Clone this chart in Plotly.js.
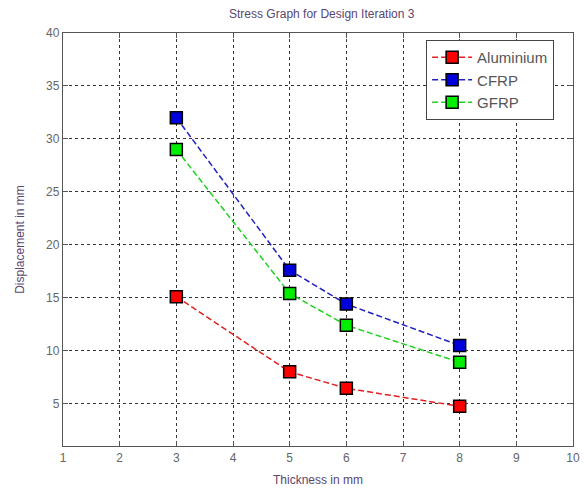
<!DOCTYPE html>
<html>
<head>
<meta charset="utf-8">
<script src="https://cdn.plot.ly/plotly-3.0.1.min.js"></script>
<style>html,body{margin:0;padding:0;background:#fff;}#chart{width:585px;height:491px;}</style>
</head>
<body>
<div id="chart"></div>
<script>
const thickness = [3, 5, 6, 8];
const aluminium = [15.1, 8.0, 6.45, 4.75];
const cfrp = [32.0, 17.6, 14.4, 10.5];
const gfrp = [29.0, 15.4, 12.4, 8.9];
const seriesNames = ['Aluminium', 'CFRP', 'GFRP'];
const xTicks = [1,2,3,4,5,6,7,8,9,10];
const yTicks = [5,10,15,20,25,30,35,40];

const colors = ['#ff0000', '#0000dd', '#00ee00'];
const lineColors = ['#e02020', '#2020c0', '#20d020'];
const data = [aluminium, cfrp, gfrp].map((ys, i) => ({
  x: thickness, y: ys, name: seriesNames[i], type: 'scatter', mode: 'lines+markers',
  line: {color: lineColors[i], dash: '6px,3px', width: 1.5, shape: 'linear'},
  marker: {symbol: 'square', size: 12, color: colors[i], line: {color: '#000', width: 1.5}}
}));

const tickFont = {family: 'Liberation Sans, Arial, sans-serif', size: 12, color: '#666'};
const labFont = {family: 'Liberation Sans, Arial, sans-serif', size: 12, color: '#5a4670'};
const layout = {
  width: 585, height: 491,
  margin: {l: 63, r: 12, t: 33, b: 45},
  paper_bgcolor: '#fff', plot_bgcolor: '#fff',
  title: {text: 'Stress Graph for Design Iteration 3', font: labFont, x: 0.55, xanchor: 'center', y: 0.972, yanchor: 'middle'},
  xaxis: {
    range: [1, 10], tickvals: xTicks, ticktext: xTicks.map(String),
    showgrid: true, gridcolor: '#333', griddash: 'dot', gridwidth: 1,
    showline: true, linecolor: '#555', linewidth: 1.2, mirror: 'allticks',
    ticks: 'inside', ticklen: 5, tickcolor: '#555',
    tickfont: tickFont, zeroline: false,
    title: {text: 'Thickness in mm', font: labFont, standoff: 12}
  },
  yaxis: {
    range: [1, 40], tickvals: yTicks, ticktext: yTicks.map(String),
    showgrid: true, gridcolor: '#333', griddash: 'dot', gridwidth: 1,
    showline: true, linecolor: '#555', linewidth: 1.2, mirror: 'allticks',
    ticks: 'inside', ticklen: 5, tickcolor: '#555',
    tickfont: tickFont, zeroline: false,
    title: {text: 'Displacement in mm', font: labFont, standoff: 18}
  },
  legend: {
    x: 0.712, y: 0.983, xanchor: 'left', yanchor: 'top',
    bgcolor: '#fff', bordercolor: '#444', borderwidth: 1,
    font: {family: 'Liberation Sans, Arial, sans-serif', size: 15, color: '#555'},
    tracegroupgap: 0, itemwidth: 40
  },
  showlegend: true
};
Plotly.newPlot('chart', data, layout, {staticPlot: true});
</script>
</body>
</html>
